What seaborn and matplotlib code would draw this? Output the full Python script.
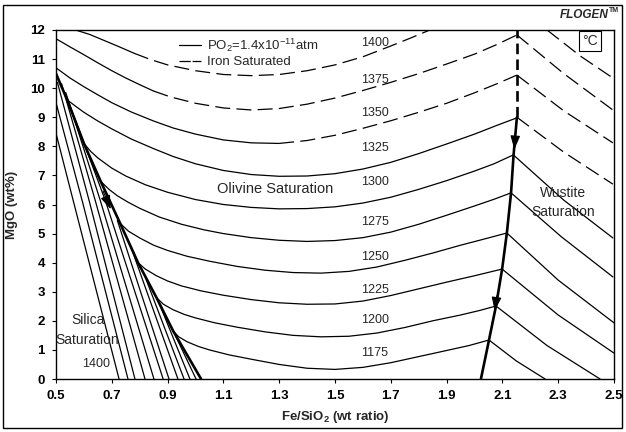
import pandas as pd
import seaborn as sns
import matplotlib.pyplot as plt
from matplotlib.lines import Line2D
from matplotlib.patches import Rectangle

# ---- olivine isotherms (Fe/SiO2, MgO) ----
temps = [1400, 1375, 1350, 1325, 1300, 1275, 1250, 1225, 1200, 1175]

ol1400_x = [0.57, 0.62, 0.67, 0.72, 0.78, 0.84, 0.9, 1.0, 1.1, 1.2, 1.3, 1.4, 1.5, 1.6, 1.7, 1.77, 1.84]
ol1400_y = [12.0, 11.85, 11.65, 11.45, 11.2, 10.98, 10.8, 10.6, 10.47, 10.43, 10.47, 10.6, 10.8, 11.08, 11.45, 11.72, 12.0]
ol1375_x = [0.5, 0.55, 0.6, 0.65, 0.7, 0.75, 0.8, 0.85, 0.91, 1.0, 1.1, 1.2, 1.3, 1.4, 1.5, 1.6, 1.7,
            1.8, 1.9, 2.0, 2.08, 2.152]
ol1375_y = [11.7, 11.42, 11.15, 10.87, 10.6, 10.35, 10.12, 9.9, 9.7, 9.48, 9.32, 9.25, 9.3, 9.45, 9.66, 9.92,
            10.2, 10.5, 10.83, 11.17, 11.5, 11.83]
ol1350_x = [0.5, 0.55, 0.6, 0.65, 0.7, 0.77, 0.85, 0.92, 1.0, 1.1, 1.2, 1.3, 1.4, 1.5, 1.6, 1.7, 1.8,
            1.9, 2.0, 2.08, 2.152]
ol1350_y = [10.7, 10.35, 10.05, 9.77, 9.5, 9.18, 8.87, 8.63, 8.42, 8.22, 8.12, 8.1, 8.2, 8.38, 8.62, 8.88,
            9.17, 9.48, 9.84, 10.15, 10.45]
ol1325_x = [0.54, 0.57, 0.6, 0.65, 0.7, 0.77, 0.85, 0.92, 1.0, 1.1, 1.2, 1.3, 1.4, 1.5, 1.6, 1.7, 1.8,
            1.9, 2.0, 2.08, 2.152]
ol1325_y = [9.6, 9.38, 9.17, 8.87, 8.6, 8.25, 7.92, 7.65, 7.4, 7.17, 7.03, 6.97, 6.98, 7.06, 7.22, 7.45,
            7.75, 8.08, 8.42, 8.72, 8.98]
ol1300_x = [0.6, 0.625, 0.65, 0.7, 0.75, 0.82, 0.9, 1.0, 1.1, 1.2, 1.3, 1.4, 1.5, 1.6, 1.7, 1.8, 1.9,
            2.0, 2.07, 2.138]
ol1300_y = [8.1, 7.82, 7.6, 7.25, 6.98, 6.68, 6.42, 6.17, 6.0, 5.9, 5.85, 5.86, 5.92, 6.05, 6.25, 6.52,
            6.82, 7.15, 7.4, 7.7]
ol1275_x = [0.66, 0.69, 0.72, 0.76, 0.8, 0.87, 0.95, 1.03, 1.1, 1.2, 1.3, 1.4, 1.5, 1.6, 1.7, 1.8, 1.9,
            2.0, 2.07, 2.131]
ol1275_y = [6.8, 6.52, 6.3, 6.07, 5.87, 5.57, 5.32, 5.13, 5.0, 4.86, 4.77, 4.73, 4.76, 4.86, 5.05, 5.32,
            5.63, 5.95, 6.18, 6.4]
ol1250_x = [0.73, 0.76, 0.8, 0.85, 0.9, 0.97, 1.05, 1.15, 1.25, 1.35, 1.45, 1.55, 1.65, 1.75, 1.85,
            1.95, 2.03, 2.116]
ol1250_y = [5.35, 5.08, 4.85, 4.6, 4.42, 4.22, 4.05, 3.87, 3.74, 3.66, 3.64, 3.7, 3.85, 4.08, 4.33,
            4.6, 4.8, 5.02]
ol1225_x = [0.794, 0.82, 0.86, 0.9, 0.95, 1.02, 1.1, 1.2, 1.3, 1.4, 1.5, 1.6, 1.7, 1.8, 1.9, 2.0, 2.099]
ol1225_y = [4.0, 3.78, 3.55, 3.37, 3.2, 3.03, 2.88, 2.73, 2.62, 2.57, 2.58, 2.68, 2.87, 3.1, 3.33, 3.55, 3.78]
ol1200_x = [0.86, 0.885, 0.92, 0.96, 1.0, 1.07, 1.15, 1.25, 1.35, 1.45, 1.55, 1.65, 1.75, 1.85, 1.95,
            2.02, 2.077]
ol1200_y = [2.8, 2.57, 2.38, 2.22, 2.1, 1.93, 1.78, 1.62, 1.5, 1.45, 1.47, 1.58, 1.77, 2.0, 2.2, 2.36, 2.51]
ol1175_x = [0.92, 0.94, 0.97, 1.01, 1.05, 1.12, 1.2, 1.3, 1.4, 1.5, 1.6, 1.7, 1.8, 1.9, 1.98, 2.052]
ol1175_y = [1.65, 1.45, 1.28, 1.12, 1.0, 0.83, 0.68, 0.5, 0.37, 0.33, 0.4, 0.56, 0.77, 0.98, 1.15, 1.34]
# index of the first point of the iron-saturated (dashed) stretch
ol_dash_from = {1400: 5, 1375: 8, 1350: 12}

# ---- phase boundaries ----
silica_bd_x = [0.5, 0.54, 0.6, 0.66, 0.73, 0.794, 0.86, 0.92, 1.02]
silica_bd_y = [10.5, 9.6, 8.1, 6.8, 5.35, 4.0, 2.8, 1.65, 0.0]
wustite_bd_x = [2.023, 2.052, 2.077, 2.099, 2.116, 2.131, 2.14, 2.152]
wustite_bd_y = [0.0, 1.34, 2.51, 3.78, 5.02, 6.4, 7.7, 9.0]
wustite_dash_x = [2.152, 2.152]
wustite_dash_y = [9.0, 12.0]

# ---- silica-saturation isotherms (top -> bottom) ----
sil_top_x = [0.5, 0.5, 0.505, 0.52, 0.535, 0.548, 0.72, 0.77, 0.82, 0.87, 0.93]
sil_top_y = [8.45, 9.5, 10.2, 10.15, 9.85, 9.45, 5.45, 4.5, 3.5, 2.6, 1.45]
sil_mid_x = [0.561, 0.593, 0.618, 0.64, 0.658, 0.676, None, None, None, None, None]
sil_mid_y = [6.16, 6.16, 6.16, 6.16, 6.16, 6.16, None, None, None, None, None]
sil_bot_x = [0.726, 0.758, 0.783, 0.819, 0.851, 0.884, 0.905, 0.937, 0.959, 0.98, 1.002]

# ---- wustite-saturation isotherms (start on boundary -> end) ----
wus_start_x = [2.26, 2.152, 2.152, 2.152, 2.14, 2.131, 2.116, 2.099, 2.077, 2.052]
wus_start_y = [12.0, 11.83, 10.45, 9.0, 7.7, 6.4, 5.02, 3.78, 2.51, 1.34]
wus_mid_x = [2.38, 2.32, 2.32, 2.32, 2.32, 2.31, 2.3, 2.3, 2.26, 2.15]
wus_mid_y = [11.1, 10.5, 9.22, 7.8, 6.15, 4.9, 3.4, 2.2, 1.15, 0.62]
wus_end_x = [2.496, 2.496, 2.496, 2.496, 2.496, 2.496, 2.5, 2.5, 2.45, 2.253]
wus_end_y = [10.35, 9.25, 8.12, 6.7, 4.85, 3.51, 1.93, 0.89, 0.0, 0.0]
wus_dashed = [True, True, True, True, False, False, False, False, False, False]

# ---- labels ----
label_x = [1.643] * 10
label_y = [11.55, 10.28, 9.15, 7.94, 6.77, 5.4, 4.2, 3.06, 2.03, 0.89]

# arrows: (tail x, tail y, tip x, tip y)
arrow_tail_x = [0.665, 2.148, 2.081]
arrow_tail_y = [6.55, 8.6, 2.95]
arrow_tip_x = [0.70, 2.142, 2.071]
arrow_tip_y = [5.75, 7.8, 2.25]

xticks = [0.5, 0.7, 0.9, 1.1, 1.3, 1.5, 1.7, 1.9, 2.1, 2.3, 2.5]
yticks = list(range(0, 13))

# ---- build long tables ----
ol_x = [ol1400_x, ol1375_x, ol1350_x, ol1325_x, ol1300_x,
        ol1275_x, ol1250_x, ol1225_x, ol1200_x, ol1175_x]
ol_y = [ol1400_y, ol1375_y, ol1350_y, ol1325_y, ol1300_y,
        ol1275_y, ol1250_y, ol1225_y, ol1200_y, ol1175_y]

thin_rows = []
seg = 0
for t, xs, ys in zip(temps, ol_x, ol_y):
    k = ol_dash_from.get(t, len(xs))
    for i in range(0, k):
        thin_rows.append((xs[i], ys[i], seg, "solid"))
    if k < len(xs):
        seg += 1
        # dashed stretch shares the break point with the solid one
        for i in range(k - 1, len(xs)):
            thin_rows.append((xs[i], ys[i], seg, "dashed"))
    seg += 1

for i in range(len(sil_top_x)):
    thin_rows.append((sil_top_x[i], sil_top_y[i], seg, "solid"))
    if sil_mid_x[i] is not None:
        thin_rows.append((sil_mid_x[i], sil_mid_y[i], seg, "solid"))
    thin_rows.append((sil_bot_x[i], 0.0, seg, "solid"))
    seg += 1

for i in range(len(wus_start_x)):
    kind = "dashed" if wus_dashed[i] else "solid"
    thin_rows.append((wus_start_x[i], wus_start_y[i], seg, kind))
    thin_rows.append((wus_mid_x[i], wus_mid_y[i], seg, kind))
    thin_rows.append((wus_end_x[i], wus_end_y[i], seg, kind))
    seg += 1

thin = pd.DataFrame(thin_rows, columns=["x", "y", "seg", "kind"])

thick_rows = []
for x, y in zip(silica_bd_x, silica_bd_y):
    thick_rows.append((x, y, 0, "solid"))
for x, y in zip(wustite_bd_x, wustite_bd_y):
    thick_rows.append((x, y, 1, "solid"))
for x, y in zip(wustite_dash_x, wustite_dash_y):
    thick_rows.append((x, y, 2, "dashed"))
thick = pd.DataFrame(thick_rows, columns=["x", "y", "seg", "kind"])

# ---- plot ----
sns.set_theme(style="ticks")
plt.rcParams['font.family'] = ['Liberation Sans', 'DejaVu Sans']
plt.rcParams['mathtext.fontset'] = 'custom'
plt.rcParams['mathtext.rm'] = 'Liberation Sans'
plt.rcParams['mathtext.bf'] = 'Liberation Sans:bold'
plt.rcParams['mathtext.it'] = 'Liberation Sans:italic'

fig = plt.figure(figsize=(6.26, 4.32), dpi=100)
ax = fig.add_axes([56 / 626, 1 - 379 / 432, 558 / 626, 349 / 432])

dash_map = {"solid": "", "dashed": (12, 5)}
sns.lineplot(data=thin, x="x", y="y", units="seg", style="kind", dashes=dash_map,
             estimator=None, sort=False, color="black", lw=0.9, legend=False, ax=ax)
sns.lineplot(data=thick, x="x", y="y", units="seg", style="kind", dashes={"solid": "", "dashed": (4, 2)},
             estimator=None, sort=False, color="black", lw=1.9, legend=False, ax=ax)

for tx, ty, hx, hy in zip(arrow_tail_x, arrow_tail_y, arrow_tip_x, arrow_tip_y):
    ax.annotate("", xy=(hx, hy), xytext=(tx, ty),
                arrowprops=dict(arrowstyle="-|>,head_length=0.7,head_width=0.25",
                                color="black", lw=0.8))

for t, lx, ly in zip(temps, label_x, label_y):
    ax.text(lx, ly, str(t), ha="center", va="center", fontsize=9)

ax.text(1.287, 6.55, "Olivine Saturation", ha="center", va="center", fontsize=10.5)
ax.text(2.317, 6.4, "Wustite", ha="center", va="center", fontsize=10)
ax.text(2.317, 5.74, "Saturation", ha="center", va="center", fontsize=10)
ax.text(0.613, 2.03, "Silica", ha="center", va="center", fontsize=10)
ax.text(0.613, 1.34, "Saturation", ha="center", va="center", fontsize=10)
ax.text(0.643, 0.52, "1400", ha="center", va="center", fontsize=9)
ax.text(2.414, 11.62, "°C", ha="center", va="center", fontsize=10,
        bbox=dict(boxstyle="square,pad=0.2", fc="white", ec="black", lw=0.8))

handles = [Line2D([], [], color="black", lw=0.9),
           Line2D([], [], color="black", lw=0.9, dashes=(9, 1.5))]
ax.legend(handles, [r"PO$_2$=1.4x10$^{-11}$atm", "Iron Saturated"],
          loc="upper left", bbox_to_anchor=(0.2, 1.015), frameon=False,
          fontsize=9.5, handlelength=1.6, handletextpad=0.5, labelspacing=0.15)

ax.set_xlim(0.5, 2.5)
ax.set_ylim(0, 12)
ax.set_xticks(xticks)
ax.set_xticklabels([f"{v:.1f}" for v in xticks])
ax.set_yticks(yticks)
ax.tick_params(direction="out", length=3, width=0.8, pad=5, labelsize=9.5, colors="black")
for lab in ax.get_xticklabels() + ax.get_yticklabels():
    lab.set_fontweight("bold")
for sp in ax.spines.values():
    sp.set_visible(True)
    sp.set_color("black")
    sp.set_linewidth(1.0)

ax.set_xlabel(r"Fe/SiO$_\mathbf{2}$ (wt ratio)", fontsize=9.5, fontweight="bold", labelpad=5)
ax.set_ylabel("MgO (wt%)", fontsize=9.5, fontweight="bold", labelpad=9)

fig.text(0.972, 0.966, "FLOGEN", ha="right", va="center", fontsize=8.5,
         fontweight="bold", fontstyle="italic")
fig.text(0.973, 0.976, "TM", ha="left", va="center", fontsize=5, fontweight="bold")
fig.patches.append(Rectangle((3 / 626, 4 / 432), 619 / 626, 423 / 432, transform=fig.transFigure,
                             fill=False, ec="black", lw=1.0))

fig.savefig("out.png", dpi=100)
